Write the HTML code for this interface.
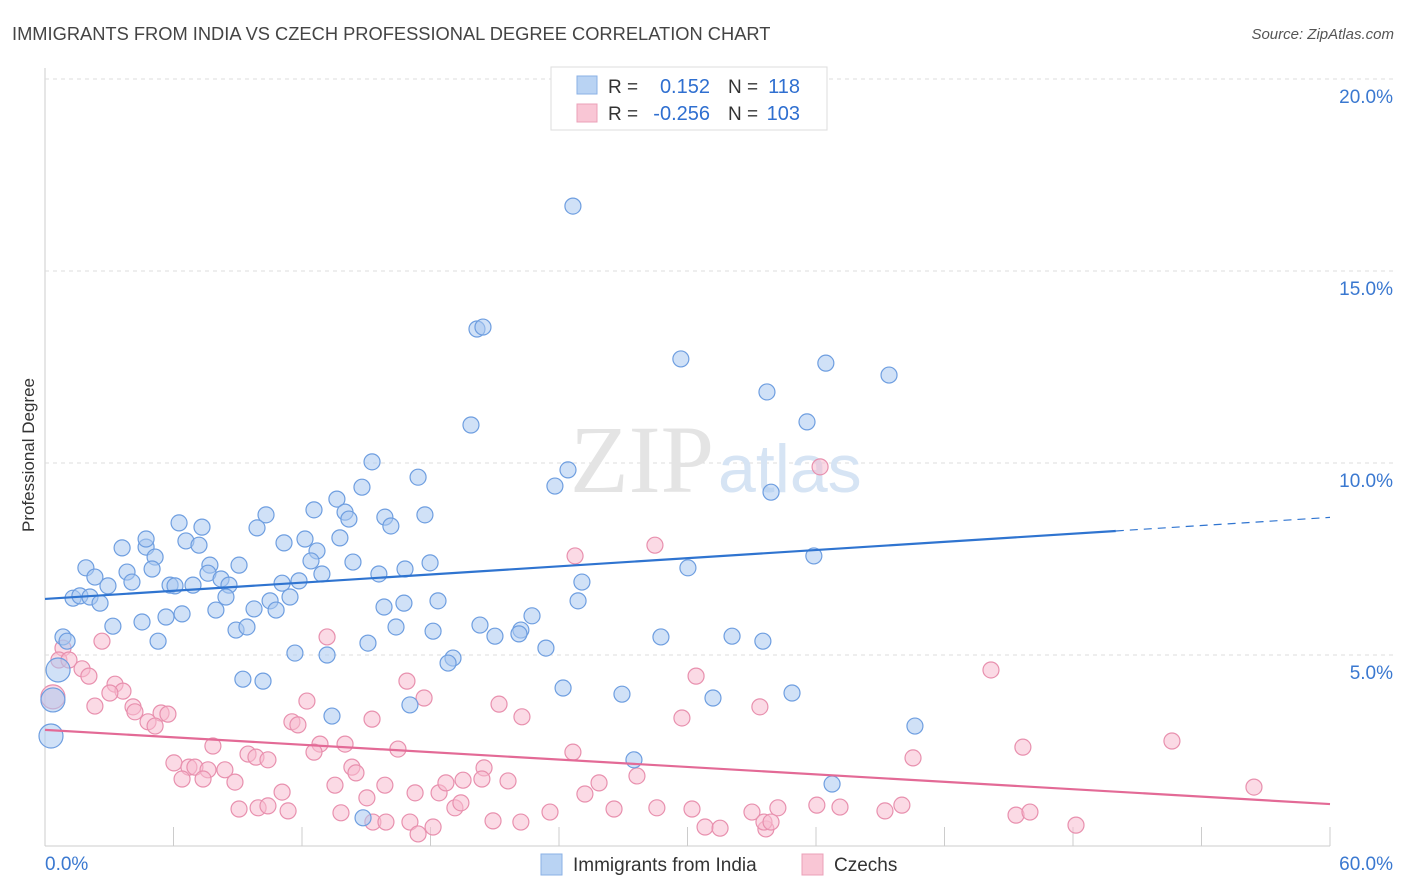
<!DOCTYPE html>
<html><head><meta charset="utf-8"><style>
body{margin:0;background:#fff;font-family:"Liberation Sans",sans-serif;}
svg{display:block}
</style></head><body>
<svg id="chart" width="1406" height="892">
<text x="12" y="40" font-size="18.3" fill="#444">IMMIGRANTS FROM INDIA VS CZECH PROFESSIONAL DEGREE CORRELATION CHART</text>
<text x="1394" y="39" font-size="15" fill="#555" font-style="italic" text-anchor="end">Source: ZipAtlas.com</text>
<text x="34" y="455" font-size="17" fill="#333" text-anchor="middle" transform="rotate(-90 34 455)">Professional Degree</text>
<g id="grid"></g>
<text x="714" y="492" font-size="96" fill="#e4e4e4" text-anchor="end" font-family="Liberation Serif">ZIP</text>
<text x="718" y="492" font-size="68" fill="#d6e4f4">atlas</text>
<g id="points"></g>
<g id="lines"></g>
<g>
<rect x="551" y="67" width="276" height="63" fill="#fff" stroke="#ddd"/>
<rect x="577" y="76" width="20" height="18" fill="#b9d3f3" stroke="#8ab0e6"/>
<rect x="577" y="104" width="20" height="18" fill="#f9c6d5" stroke="#eba0b8"/>
<text x="608" y="93" font-size="19" fill="#333">R =</text>
<text x="710" y="93" font-size="20" fill="#2f6fd0" text-anchor="end">0.152</text>
<text x="728" y="93" font-size="19" fill="#333">N =</text>
<text x="800" y="93" font-size="20" fill="#2f6fd0" text-anchor="end">118</text>
<text x="608" y="120" font-size="19" fill="#333">R =</text>
<text x="710" y="120" font-size="20" fill="#2f6fd0" text-anchor="end">-0.256</text>
<text x="728" y="120" font-size="19" fill="#333">N =</text>
<text x="800" y="120" font-size="20" fill="#2f6fd0" text-anchor="end">103</text>
</g>
<g>
<rect x="541" y="854" width="21" height="21" fill="#b9d3f3" stroke="#8ab0e6"/>
<text x="573" y="871" font-size="19" fill="#333">Immigrants from India</text>
<rect x="802" y="854" width="21" height="21" fill="#f9c6d5" stroke="#eba0b8"/>
<text x="834" y="871" font-size="19" fill="#333">Czechs</text>
</g>
</svg>
<script>
const yTicks=[5,10,15,20];
const yTickLabels=["5.0%","10.0%","15.0%","20.0%"];
const xTicks=[0,6,12,18,24,30,36,42,48,54,60];
const xEndLabels=["0.0%","60.0%"];
const indiaX=[24.65,20.17,20.45,29.69,36.46,39.41,33.71,35.58,19.89,15.27,24.42,23.81,17.42,33.90,13.63,14.80,10.32,12.56,14.01,14.19,15.87,16.15,17.74,6.26,7.33,9.90,4.72,3.60,4.72,6.58,7.19,12.14,11.16,13.77,12.70,5.14,9.06,12.42,14.38,1.91,3.83,5.00,7.70,7.61,8.22,12.93,15.59,16.81,17.98,30.02,35.90,2.33,4.06,2.94,5.84,6.07,6.91,8.59,11.07,11.86,25.07,1.31,1.63,2.10,2.57,8.45,10.51,11.44,16.76,18.35,24.89,9.76,7.98,10.79,15.83,6.40,5.65,22.74,3.17,4.53,8.92,9.43,16.39,20.31,22.22,18.12,0.84,1.03,5.28,21.01,22.13,28.76,32.08,33.52,23.39,11.67,13.17,15.08,19.05,18.82,0.61,9.24,10.18,24.19,26.94,31.19,34.88,17.04,13.40,40.62,0.28,27.50,36.75,14.85,0.37];
const indiaY=[16.69,13.49,13.54,12.71,12.60,12.29,11.85,11.07,10.99,10.03,9.82,9.40,9.63,9.24,9.06,9.37,8.65,8.78,8.72,8.54,8.59,8.36,8.65,8.44,8.33,8.31,7.81,7.79,8.02,7.97,7.86,8.02,7.92,8.05,7.71,7.55,7.34,7.45,7.42,7.27,7.16,7.24,7.34,7.13,6.98,7.11,7.11,7.24,7.40,7.27,7.58,7.03,6.90,6.80,6.82,6.80,6.82,6.82,6.87,6.93,6.90,6.48,6.54,6.51,6.35,6.51,6.41,6.51,6.35,6.41,6.41,6.20,6.17,6.17,6.25,6.07,5.99,6.02,5.75,5.86,5.65,5.73,5.73,5.78,5.65,5.62,5.47,5.36,5.36,5.49,5.55,5.47,5.49,5.36,5.18,5.05,5.00,5.31,4.92,4.79,4.61,4.37,4.32,4.14,3.98,3.88,4.01,3.70,3.41,3.15,2.89,2.27,1.64,0.76,3.83];
const czechX=[24.75,28.48,36.19,44.17,30.40,52.62,45.66,56.45,40.53,2.66,0.84,0.65,1.12,1.73,2.05,3.27,3.64,3.03,2.33,4.11,4.20,5.42,5.74,4.81,5.14,12.23,13.17,16.90,17.70,21.20,22.27,29.74,33.38,11.53,11.81,15.27,7.84,9.48,9.85,10.41,6.02,6.72,7.00,7.61,8.40,8.87,6.40,7.38,12.84,12.56,14.01,16.48,24.65,14.33,14.52,20.50,21.62,27.64,11.07,13.54,15.03,15.87,17.28,18.40,18.72,19.52,20.40,25.21,25.87,9.06,9.95,10.41,11.35,13.82,15.31,15.92,17.04,18.12,19.14,19.42,20.92,22.22,23.58,26.57,28.57,30.21,33.01,34.22,36.04,37.12,39.22,40.01,45.34,45.99,48.14,30.82,31.52,33.66,33.57,33.90,17.42,0.37];
const czechY=[7.58,7.86,9.90,4.61,4.45,2.76,2.60,1.56,2.32,5.36,5.18,4.87,4.87,4.64,4.45,4.24,4.06,4.01,3.67,3.65,3.52,3.49,3.46,3.26,3.15,3.80,5.47,4.32,3.88,3.72,3.39,3.36,3.65,3.26,3.18,3.33,2.63,2.42,2.34,2.27,2.19,2.08,2.08,2.01,2.01,1.69,1.77,1.77,2.68,2.47,2.68,2.55,2.47,2.08,1.93,2.06,1.72,1.85,1.43,1.61,1.28,1.61,1.41,1.41,1.67,1.74,1.77,1.38,1.67,0.99,1.02,1.07,0.94,0.89,0.65,0.65,0.65,0.52,1.02,1.15,0.68,0.65,0.91,0.99,1.02,0.99,0.91,1.02,1.09,1.04,0.94,1.09,0.83,0.91,0.57,0.52,0.49,0.47,0.65,0.65,0.34,3.91];
const indiaBigIdx=[100,110,114];
const czechBigIdx=[101];
const indiaTrend=[6.46,0.0354];
const czechTrend=[3.05,-0.0322];

const NS="http://www.w3.org/2000/svg";
const X0=45,X1=1330,Y0=847,PXY=38.4;
const sx=v=>X0+(X1-X0)*v/60;
const sy=v=>Y0-v*PXY;
function mk(tag,attrs,parent){const e=document.createElementNS(NS,tag);for(const k in attrs)e.setAttribute(k,attrs[k]);parent.appendChild(e);return e;}
const grid=document.getElementById('grid');
mk('line',{x1:X0,y1:68,x2:X0,y2:846,stroke:'#ccc'},grid);
mk('line',{x1:X0,y1:846,x2:X1,y2:846,stroke:'#ccc'},grid);
yTicks.forEach((t,i)=>{
  const l=mk('line',{x1:X0,y1:sy(t),x2:1394,y2:sy(t),stroke:'#ddd','stroke-dasharray':'4,4'},grid);
  
  
  const tx=mk('text',{x:1393,y:sy(t)+24,'font-size':19,fill:'#3a78d0','text-anchor':'end'},grid);
  tx.textContent=yTickLabels[i];
  
  
});
xTicks.forEach(t=>{
  const l=mk('line',{x1:sx(t),y1:827,x2:sx(t),y2:846,stroke:'#ccc'},grid);
  
  
});
[[0,'start',45],[60,'end',1393]].forEach((a,i)=>{
  const tx=mk('text',{x:a[2],y:870,'font-size':19,fill:'#3a78d0','text-anchor':a[1]},grid);
  tx.textContent=xEndLabels[i];
  
  
});
const pts=document.getElementById('points');
function drawSeries(xs,ys,big,fill,stroke,name){
  xs.forEach((x,i)=>{
    const r=big.includes(i)?12:8;
    const c=mk('circle',{cx:sx(x),cy:sy(ys[i]),r:r,fill:fill,'fill-opacity':0.55,stroke:stroke,'stroke-width':1.2},pts);
    
    
  });
}
drawSeries(czechX,czechY,czechBigIdx,'#f7bcd0','#e890ae','czech-point');
drawSeries(indiaX,indiaY,indiaBigIdx,'#a9c8f0','#6e9ee0','india-point');
const ln=document.getElementById('lines');
const f=(t,x)=>t[0]+t[1]*x;
let l1=mk('line',{x1:sx(0),y1:sy(f(indiaTrend,0)),x2:sx(50),y2:sy(f(indiaTrend,50)),stroke:'#2f74d0','stroke-width':2.2},ln);


let l2=mk('line',{x1:sx(50),y1:sy(f(indiaTrend,50)),x2:sx(60),y2:sy(f(indiaTrend,60)),stroke:'#2f74d0','stroke-width':1.2,'stroke-dasharray':'8,6'},ln);


let l3=mk('line',{x1:sx(0),y1:sy(f(czechTrend,0)),x2:sx(60),y2:sy(f(czechTrend,60)),stroke:'#e36a96','stroke-width':2.2},ln);


</script>
</body></html>
